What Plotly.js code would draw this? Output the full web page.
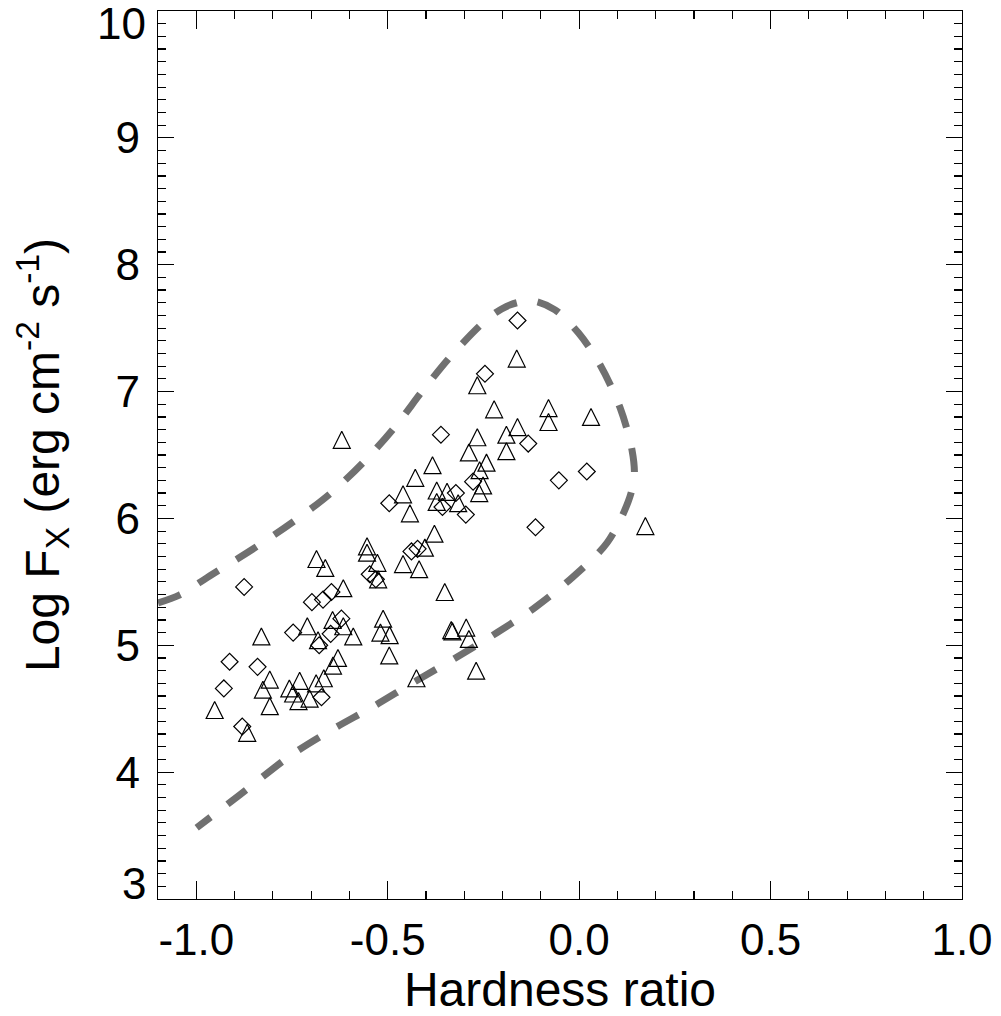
<!DOCTYPE html>
<html><head><meta charset="utf-8">
<script src="https://cdn.plot.ly/plotly-3.0.1.min.js"></script>
<style>html,body{margin:0;padding:0;background:#fff}#chart{width:1001px;height:1016px}</style>
</head><body><div id="chart"></div>
<script>
// Triangle sources (hardness ratio, log Fx)
const triangleX = [-0.620,-0.163,-0.266,-0.222,-0.080,-0.080,0.031,-0.266,-0.161,-0.190,
  -0.288,-0.190,-0.383,-0.242,-0.260,-0.251,-0.261,-0.372,-0.345,-0.372,
  -0.316,-0.460,-0.428,-0.442,-0.378,-0.403,-0.351,-0.334,-0.331,-0.295,
  -0.288,-0.269,0.173,-0.554,-0.554,-0.527,-0.525,-0.686,-0.663,-0.460,
  -0.418,-0.616,-0.710,-0.830,-0.644,-0.616,-0.590,-0.682,-0.512,-0.519,
  -0.495,-0.496,-0.630,-0.643,-0.808,-0.826,-0.808,-0.952,-0.757,-0.747,
  -0.730,-0.733,-0.704,-0.687,-0.667,-0.425,-0.867];
const triangleY = [6.62,7.26,7.05,6.86,6.87,6.76,6.80,6.64,6.72,6.66,
  6.52,6.53,6.42,6.44,6.38,6.26,6.20,6.22,6.21,6.13,
  6.12,6.19,6.32,6.04,5.88,5.77,5.42,5.12,5.11,5.14,
  5.05,4.80,5.94,5.78,5.73,5.65,5.52,5.68,5.61,5.64,
  5.60,5.45,5.15,5.07,5.20,5.15,5.07,5.04,5.21,5.10,
  5.08,4.92,4.90,4.84,4.73,4.65,4.52,4.49,4.66,4.62,
  4.72,4.56,4.58,4.70,4.74,4.74,4.31];
// Diamond sources
const diamondX = [-0.161,-0.246,-0.361,-0.133,-0.277,-0.322,-0.357,-0.296,-0.053,0.020,
  -0.114,-0.496,-0.438,-0.422,-0.547,-0.531,-0.875,-0.698,-0.669,-0.647,
  -0.747,-0.621,-0.649,-0.679,-0.913,-0.840,-0.928,-0.673,-0.880];
const diamondY = [7.56,7.14,6.66,6.59,6.29,6.20,6.09,6.03,6.30,6.37,
  5.93,6.12,5.74,5.76,5.56,5.52,5.46,5.34,5.36,5.42,
  5.10,5.21,5.09,5.00,4.87,4.83,4.66,4.59,4.36];
// Dashed envelope curve
const envelopeX = [-1.100,-1.043,-0.960,-0.855,-0.751,-0.654,-0.565,-0.481,-0.403,-0.325,
  -0.233,-0.181,-0.121,-0.063,-0.002,0.055,0.107,0.138,0.144,0.128,
  0.073,-0.016,-0.113,-0.215,-0.322,-0.434,-0.539,-0.646,-0.751,-0.886,-0.999];
const envelopeY = [5.335,5.398,5.556,5.753,5.965,6.186,6.438,6.722,7.029,7.313,
  7.589,7.683,7.715,7.644,7.463,7.210,6.872,6.541,6.328,6.131,
  5.808,5.540,5.303,5.099,4.902,4.705,4.515,4.334,4.137,3.822,3.562];
const xTickVals = [-1.0,-0.5,0.0,0.5,1.0];
const xTickText = ['-1.0','-0.5','0.0','0.5','1.0'];
const yTickVals = [3,4,5,6,7,8,9,10];
const yTickText = ['3','4','5','6','7','8','9','10'];
const xRange = [-1.1, 1.0];
const yRange = [3, 10];

const W = 1001, H = 1016;
const M = {l:158, r:39, t:11, b:117};
const TRI_SIZE = 17;
const plotH = H - M.t - M.b;
const pxPerUnit = plotH / (yRange[1] - yRange[0]);
// arrow-up symbol has its apex at the point; shift its axis so the symbol is centred on the value
const triShift = (TRI_SIZE / 2) / pxPerUnit;

const FONT = 'Liberation Sans, Arial, Helvetica, sans-serif';
const TICK_FONT = {family:FONT, size:44, color:'#000'};
const axisCommon = {
  showline:true, linecolor:'#000', linewidth:1.2, mirror:'ticks',
  ticks:'inside', tickcolor:'#000', tickwidth:1.2,
  showgrid:false, zeroline:false, tickfont:TICK_FONT
};

// end labels of the y axis are nudged inward (as in the original), drawn as annotations
const endLabels = [0, yTickVals.length - 1];
const yTickTextShown = yTickText.map((t, i) => endLabels.includes(i) ? '' : t);
const annotations = endLabels.map(i => ({
  xref:'paper', yref:'y', x:0, y:yTickVals[i], xanchor:'right', yanchor:'middle',
  xshift:-10, yshift: (yTickVals[i] === yRange[1] ? -12 : 16),
  text:yTickText[i], showarrow:false, font:TICK_FONT
}));

const traces = [
  {x:envelopeX, y:envelopeY, type:'scatter', mode:'lines',
   line:{color:'#707070', width:7, dash:'24px,21px', shape:'spline', smoothing:0.9},
   hoverinfo:'skip', showlegend:false},
  {x:diamondX, y:diamondY, type:'scatter', mode:'markers',
   marker:{symbol:'diamond-open', size:13, color:'#000', line:{width:1.2, color:'#000'}},
   showlegend:false},
  {x:triangleX, y:triangleY, type:'scatter', mode:'markers', yaxis:'y2',
   marker:{symbol:'arrow-up-open', size:TRI_SIZE, color:'#000', line:{width:1.2, color:'#000'}},
   showlegend:false}
];

const layout = {
  width:W, height:H, margin:M,
  paper_bgcolor:'#fff', plot_bgcolor:'#fff',
  font:{family:FONT, color:'#000'},
  xaxis:Object.assign({}, axisCommon, {
    range:xRange, tickmode:'array', tickvals:xTickVals, ticktext:xTickText, ticklen:18,
    minor:{ticks:'inside', ticklen:8, dtick:0.1, tick0:0, tickcolor:'#000', tickwidth:1.2},
    ticklabelstandoff:2,
    title:{text:'Hardness ratio', font:{family:FONT, size:48, color:'#000'}, standoff:16}
  }),
  yaxis:Object.assign({}, axisCommon, {
    range:yRange, tickmode:'array', tickvals:yTickVals, ticktext:yTickTextShown, ticklen:16,
    minor:{ticks:'inside', ticklen:8, dtick:0.1, tick0:0, tickcolor:'#000', tickwidth:1.2},
    ticklabelstandoff:8,
    title:{text:'Log F<sub>X</sub> (erg cm<sup>-2</sup> s<sup>-1</sup>)', font:{family:FONT, size:48, color:'#000'}, standoff:40}
  }),
  yaxis2:{overlaying:'y', range:[yRange[0]-triShift, yRange[1]-triShift], visible:false, showgrid:false, zeroline:false},
  annotations:annotations
};

Plotly.newPlot('chart', traces, layout, {staticPlot:true, displayModeBar:false});
</script>
</body></html>
